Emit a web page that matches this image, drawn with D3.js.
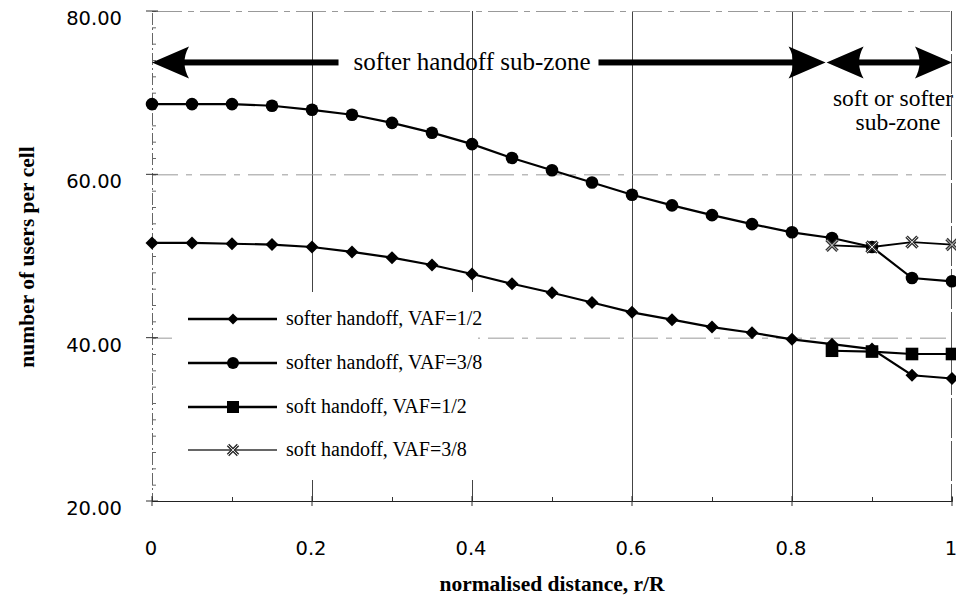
<!DOCTYPE html>
<html>
<head>
<meta charset="utf-8">
<script src="https://cdn.jsdelivr.net/npm/d3@7"></script>
<style>
  body { margin: 0; background: #fff; }
  svg { display: block; }
</style>
</head>
<body>
<div id="chart"></div>
<script>
// values
const distance = [0, 0.05, 0.1, 0.15, 0.2, 0.25, 0.3, 0.35, 0.4, 0.45, 0.5,
                  0.55, 0.6, 0.65, 0.7, 0.75, 0.8, 0.85, 0.9, 0.95, 1];
const softerHalf = [51.6, 51.6, 51.5, 51.4, 51.1, 50.5, 49.8, 48.9, 47.8, 46.6, 45.5,
                    44.3, 43.1, 42.2, 41.3, 40.6, 39.8, 39.2, 38.6, 35.4, 35.0];
const softer38 = [68.6, 68.6, 68.6, 68.4, 67.9, 67.3, 66.3, 65.1, 63.7, 62.0, 60.5,
                  59.0, 57.5, 56.2, 55.0, 53.9, 52.9, 52.2, 51.1, 47.3, 46.9];
const softDistance = [0.85, 0.9, 0.95, 1];
const softHalf = [38.4, 38.3, 38.0, 38.0];
const soft38 = [51.3, 51.1, 51.7, 51.4];

const seriesNames = ["softer handoff, VAF=1/2", "softer handoff, VAF=3/8",
                     "soft handoff, VAF=1/2", "soft handoff, VAF=3/8"];
const seriesMarkers = ["diamond", "circle", "square", "cross"];

const xTicks = [0, 0.2, 0.4, 0.6, 0.8, 1];
const xTickLabels = ["0", "0.2", "0.4", "0.6", "0.8", "1"];
const yTicks = [20, 40, 60, 80];
const yTickLabels = ["20.00", "40.00", "60.00", "80.00"];

// zone annotation (data units)
const zoneY = 73.7;
const zoneSplit = 0.842;

const width = 956, height = 604;
const x = d3.scaleLinear().domain([0, 1]).range([152, 952]);
const y = d3.scaleLinear().domain([20, 80]).range([501, 11]);

const svg = d3.select("#chart").append("svg")
    .attr("width", width)
    .attr("height", height);

const serif = "'Liberation Serif', 'Times New Roman', serif";
const sans = "'DejaVu Sans', sans-serif";

// grid
const grid = svg.append("g");
[0.2, 0.4, 0.6, 0.8].forEach(v => {
    grid.append("line")
        .attr("x1", x(v) + 0.5).attr("x2", x(v) + 0.5)
        .attr("y1", y(80)).attr("y2", y(20))
        .attr("stroke", "#444").attr("stroke-width", 1);
});
[40, 60].forEach(v => {
    grid.append("line")
        .attr("x1", x(0)).attr("x2", x(1))
        .attr("y1", y(v) + 0.5).attr("y2", y(v) + 0.5)
        .attr("stroke", "#999").attr("stroke-width", 1)
        .attr("stroke-dasharray", "26,8,6,8");
});
// frame
grid.append("line")
    .attr("x1", x(0)).attr("x2", x(1)).attr("y1", y(80) + 0.5).attr("y2", y(80) + 0.5)
    .attr("stroke", "#999").attr("stroke-width", 1.2).attr("stroke-dasharray", "30,6,6,6");
grid.append("line")
    .attr("x1", x(1) - 0.5).attr("x2", x(1) - 0.5).attr("y1", y(80)).attr("y2", y(20))
    .attr("stroke", "#555").attr("stroke-width", 1).attr("stroke-dasharray", "40,3");

// axes
const yAxis = d3.axisRight(y)
    .tickValues(d3.range(20, 80.1, 2))
    .tickSize(4)
    .tickFormat("");
svg.append("g")
    .attr("transform", `translate(${x(0)},0)`)
    .call(yAxis)
    .call(g => g.select(".domain").attr("stroke", "#666").attr("stroke-dasharray", "12,3,2,3"))
    .call(g => g.selectAll(".tick line").attr("stroke", "#666"));
svg.append("g").selectAll("line").data(yTicks).join("line")
    .attr("x1", x(0) - 6).attr("x2", x(0) + 6)
    .attr("y1", d => y(d)).attr("y2", d => y(d))
    .attr("stroke", "#333");

const xAxis = d3.axisTop(x)
    .tickValues(d3.range(0, 1.01, 0.1))
    .tickSize(4)
    .tickFormat("");
svg.append("g")
    .attr("transform", `translate(0,${y(20)})`)
    .call(xAxis)
    .call(g => g.select(".domain").attr("stroke", "#222"))
    .call(g => g.selectAll(".tick line").attr("stroke", "#333"));
svg.append("g").selectAll("line").data(xTicks).join("line")
    .attr("x1", d => x(d)).attr("x2", d => x(d))
    .attr("y1", y(20) - 5).attr("y2", y(20) + 5)
    .attr("stroke", "#333");

svg.append("g").selectAll("text").data(yTicks).join("text")
    .attr("x", 122)
    .attr("y", d => y(d) + 14)
    .attr("text-anchor", "end")
    .style("font-family", sans).style("font-size", "19.5px")
    .text((d, i) => yTickLabels[i]);

svg.append("g").selectAll("text").data(xTicks).join("text")
    .attr("x", d => x(d) - 1)
    .attr("y", 555)
    .attr("text-anchor", "middle")
    .style("font-family", sans).style("font-size", "19.5px")
    .text((d, i) => xTickLabels[i]);

svg.append("text")
    .attr("transform", "translate(34,257) rotate(-90)")
    .attr("text-anchor", "middle")
    .style("font-family", serif).style("font-size", "21.5px").style("font-weight", "bold")
    .text("number of users per cell");
svg.append("text")
    .attr("x", 552).attr("y", 591)
    .attr("text-anchor", "middle")
    .style("font-family", serif).style("font-size", "21.5px").style("font-weight", "bold")
    .text("normalised distance, r/R");

// markers
function marker(g, type, cx, cy, s) {
    if (type === "circle") {
        g.append("circle").attr("cx", cx).attr("cy", cy).attr("r", s).attr("fill", "#000");
    } else if (type === "diamond") {
        g.append("path")
            .attr("d", `M${cx},${cy - s}L${cx + s},${cy}L${cx},${cy + s}L${cx - s},${cy}Z`)
            .attr("fill", "#000");
    } else if (type === "square") {
        g.append("rect").attr("x", cx - s).attr("y", cy - s)
            .attr("width", 2 * s).attr("height", 2 * s).attr("fill", "#000");
    } else {
        const p = `M${cx - s},${cy - s}L${cx + s},${cy + s}M${cx - s},${cy + s}L${cx + s},${cy - s}`;
        g.append("path").attr("d", p).attr("stroke", "#333").attr("stroke-width", 3.4).attr("fill", "none");
        g.append("path").attr("d", p).attr("stroke", "#ddd").attr("stroke-width", 1).attr("fill", "none");
    }
}

const line = d3.line().x(d => x(d[0])).y(d => y(d[1]));
const series = [
    {xs: distance, ys: softerHalf, m: seriesMarkers[0], s: 6.5, w: 2.2},
    {xs: distance, ys: softer38, m: seriesMarkers[1], s: 6.3, w: 2.2},
    {xs: softDistance, ys: softHalf, m: seriesMarkers[2], s: 6.3, w: 2.2},
    {xs: softDistance, ys: soft38, m: seriesMarkers[3], s: 5.5, w: 1.8}
];

const plot = svg.append("g");
series.forEach(sr => {
    const pts = sr.xs.map((d, i) => [d, sr.ys[i]]);
    plot.append("path").datum(pts)
        .attr("d", line)
        .attr("fill", "none")
        .attr("stroke", "#000")
        .attr("stroke-width", sr.w);
    const mg = plot.append("g");
    pts.forEach(p => marker(mg, sr.m, x(p[0]), y(p[1]), sr.s));
});

// legend
const legend = svg.append("g");
legend.append("rect")
    .attr("x", 172).attr("y", 292).attr("width", 306).attr("height", 188)
    .attr("fill", "#fff");
const legendRowsY = [319, 363, 407, 450];
seriesNames.forEach((name, i) => {
    const ly = legendRowsY[i];
    legend.append("line")
        .attr("x1", 188).attr("x2", 277).attr("y1", ly).attr("y2", ly)
        .attr("stroke", i === 3 ? "#333" : "#000")
        .attr("stroke-width", i === 3 ? 1.6 : 2.4);
    marker(legend, seriesMarkers[i], 233, ly, i === 0 ? 5.5 : (i === 3 ? 5 : 6));
    legend.append("text")
        .attr("x", 286).attr("y", ly + 6)
        .style("font-family", serif).style("font-size", "20px")
        .text(name);
});

// zone arrows
const ann = svg.append("g");
const ay = y(zoneY);
function arrowHead(tipX, dir) {
    const L = 37, H = 16;
    const b = tipX - dir * L;
    ann.append("path")
        .attr("d", `M${tipX},${ay}L${b},${ay - H}Q${b + dir * 9},${ay} ${b},${ay + H}Z`)
        .attr("fill", "#000");
}
const zoneText = ann.append("text")
    .attr("x", x(0.4)).attr("y", ay + 8)
    .attr("text-anchor", "middle")
    .style("font-family", serif).style("font-size", "25px")
    .text("softer handoff sub-zone");
const tw = zoneText.node().getComputedTextLength();
const t0 = x(0.4) - tw / 2, t1 = x(0.4) + tw / 2;
ann.append("rect").attr("x", x(0) + 30).attr("y", ay - 3).attr("width", t0 - 15 - x(0) - 30).attr("height", 6).attr("fill", "#000");
ann.append("rect").attr("x", t1 + 8).attr("y", ay - 3).attr("width", x(zoneSplit) - 30 - t1 - 8).attr("height", 6).attr("fill", "#000");
arrowHead(x(0), -1);
arrowHead(x(zoneSplit), 1);
ann.append("rect").attr("x", x(zoneSplit) + 28).attr("y", ay - 3)
    .attr("width", x(1) - x(zoneSplit) - 56).attr("height", 6).attr("fill", "#000");
arrowHead(x(zoneSplit) + 1, -1);
arrowHead(x(1), 1);

ann.append("text")
    .attr("x", 893).attr("y", 106)
    .attr("text-anchor", "middle")
    .style("font-family", serif).style("font-size", "23.5px")
    .text("soft or softer");
ann.append("text")
    .attr("x", 898).attr("y", 130)
    .attr("text-anchor", "middle")
    .style("font-family", serif).style("font-size", "23.5px")
    .text("sub-zone");
</script>
</body>
</html>
